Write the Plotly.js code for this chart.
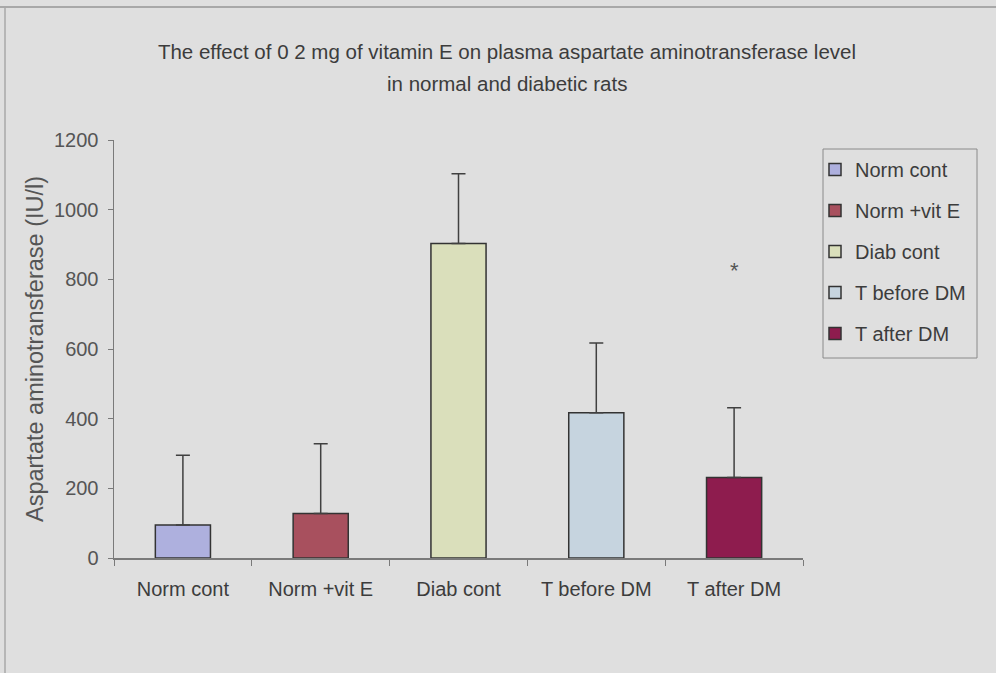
<!DOCTYPE html>
<html>
<head>
<meta charset="utf-8">
<script src="https://cdn.plot.ly/plotly-3.0.1.min.js"></script>
<style>
  html, body { margin: 0; padding: 0; background: #dfdfdf; }
  #chart { width: 996px; height: 673px; }
</style>
</head>
<body>
<div id="chart"></div>
<script>
// Plasma AST (IU/l) per group, with SD
const groups = ['Norm cont', 'Norm +vit E', 'Diab cont', 'T before DM', 'T after DM'];
const astMean = [95, 128, 903, 417, 231];
const astSD = [200, 200, 200, 200, 200];
const barColors = ['#aeb0de', '#a8505e', '#dadfbb', '#c6d4df', '#8e1c4e'];
const sigGroup = 'T after DM';
const sigMarkY = 825;
const yTicks = [0, 200, 400, 600, 800, 1000, 1200];

const font = 'Liberation Sans, Arial, sans-serif';
const ink = '#3c3c3c';

// plot area: 114..803 px across, 140..558 px down
const px = v => (v - 114) / 689;
const py = v => (558 - v) / 418;

const traces = groups.map((g, i) => ({
  type: 'bar',
  name: g,
  x: [g],
  y: [astMean[i]],
  width: 0.4,
  legendgroup: 'g' + i,
  marker: { color: barColors[i], line: { color: '#333333', width: 1.5 } },
  error_y: { type: 'data', array: [astSD[i]], symmetric: false, arrayminus: [0],
             color: '#404040', thickness: 1.5, width: 7 },
  hoverinfo: 'x+y'
}));

const layout = {
  width: 996, height: 673,
  paper_bgcolor: '#dfdfdf',
  plot_bgcolor: '#dfdfdf',
  margin: { l: 114, r: 193, t: 140, b: 115 },
  barmode: 'overlay',
  font: { family: font, color: ink, size: 20 },
  title: {
    text: 'The effect of 0 2 mg of vitamin E on plasma aspartate aminotransferase level',
    font: { family: font, size: 20.5, color: ink },
    x: 0.509, xref: 'container', xanchor: 'center',
    y: 1 - 52 / 673, yref: 'container', yanchor: 'middle'
  },
  xaxis: {
    categoryorder: 'array', categoryarray: groups,
    showline: true, linecolor: '#7a7a7a', linewidth: 1.5,
    ticks: 'outside', tickson: 'boundaries', ticklen: 6, tickcolor: '#7a7a7a',
    tickfont: { family: font, size: 20, color: ink },
    ticklabelstandoff: 12,
    showgrid: false, zeroline: false, fixedrange: true
  },
  yaxis: {
    range: [0, 1200], tickvals: yTicks,
    showline: true, linecolor: '#7a7a7a', linewidth: 1.5,
    ticks: 'outside', ticklen: 5, tickcolor: '#7a7a7a',
    tickfont: { family: font, size: 20, color: '#555555' },
    ticklabelstandoff: 5,
    showgrid: false, zeroline: false, fixedrange: true,
    title: { text: 'Aspartate aminotransferase (IU/l)', standoff: 4,
             font: { family: font, size: 23.5, color: '#555555' } }
  },
  legend: {
    x: px(815), xanchor: 'left', y: py(150), yanchor: 'top',
    bgcolor: 'rgba(0,0,0,0)', borderwidth: 0,
    font: { family: font, size: 20, color: ink },
    traceorder: 'grouped', tracegroupgap: 12,
    itemwidth: 30
  },
  annotations: [
    {
      text: 'in normal and diabetic rats',
      xref: 'paper', yref: 'paper', x: px(507), y: py(84),
      xanchor: 'center', yanchor: 'middle', showarrow: false,
      font: { family: font, size: 20.5, color: ink }
    },
    {
      text: '*', x: sigGroup, y: sigMarkY, xref: 'x', yref: 'y',
      showarrow: false, yanchor: 'middle',
      font: { family: font, size: 22, color: '#555555' }
    }
  ],
  shapes: [
    // figure frame
    { type: 'line', xref: 'paper', yref: 'paper', x0: px(0), x1: px(996),
      y0: py(7), y1: py(7), line: { color: '#a8a8a8', width: 2 } },
    { type: 'line', xref: 'paper', yref: 'paper', x0: px(5), x1: px(5),
      y0: py(7), y1: py(673), line: { color: '#a8a8a8', width: 1.5 } },
    // legend box
    { type: 'rect', xref: 'paper', yref: 'paper', x0: px(823), x1: px(977),
      y0: py(149), y1: py(358), line: { color: '#8a8a8a', width: 1 } }
  ],
  showlegend: true
};

Plotly.newPlot('chart', traces, layout, { displayModeBar: false, staticPlot: true });
</script>
</body>
</html>
